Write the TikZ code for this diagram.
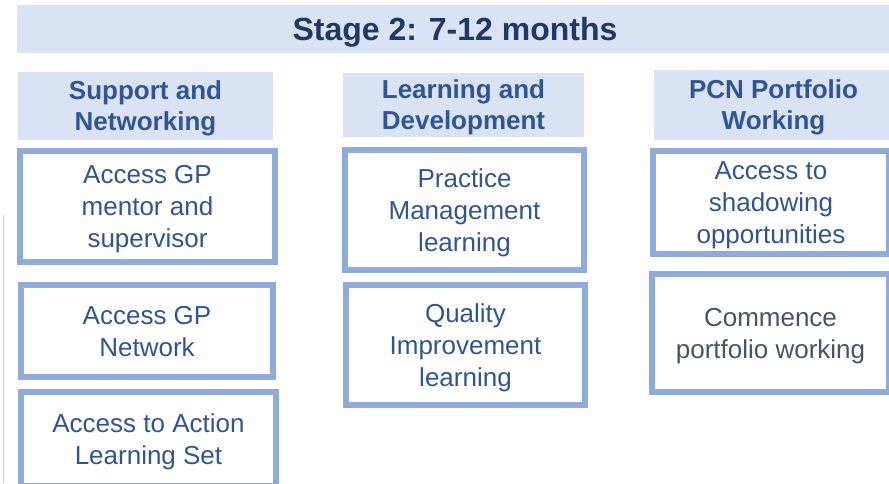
\documentclass[tikz,border=0pt]{standalone}
\usepackage{fontspec}
\setmainfont{Liberation Sans}
\definecolor{bannerfill}{HTML}{DAE3F3}
\definecolor{boxline}{HTML}{8FAADC}
\definecolor{itemtext}{HTML}{2F5597}
\definecolor{titletext}{HTML}{1F3864}
\definecolor{greytext}{HTML}{44546A}

\begin{document}
\begin{tikzpicture}[x=1pt,y=-1pt,
                    banner/.style={fill=bannerfill,inner sep=0pt,align=center,
                      text=itemtext,text depth=-6.5pt,
                      font=\fontsize{26}{31}\selectfont\bfseries},
                    item/.style={draw=boxline,line width=6pt,fill=white,
                      inner sep=0pt,align=center,text=itemtext,text depth=-7pt,
                      font=\fontsize{26}{32}\selectfont}]

  \useasboundingbox (0,0) rectangle (889,483);
  \clip (0,0) rectangle (889,483);

  \draw[boxline!60,line width=1pt] (3,215) -- (3,483);

  % title bar
  \node[banner,minimum width=876,minimum height=48,text=titletext,text depth=-8pt,
        font=\fontsize{32}{38}\selectfont\bfseries] (stage) at (455,29)
        {Stage 2: 7-12 months};

  % column heads
  \node[banner,minimum width=255,minimum height=68] (support) at (145.5,106)
        {Support and\\Networking};
  \node[banner,minimum width=241,minimum height=64] (learning) at (463.5,105)
        {Learning and\\Development};
  \node[banner,minimum width=239,minimum height=70] (pcn) at (773.5,105)
        {PCN Portfolio\\Working};

  % support and networking
  \node[item,minimum width=255,minimum height=111] (mentor)  at (147.5,206.5)
        {Access GP\\mentor and\\supervisor};
  \node[item,minimum width=252,minimum height=92]  (network) at (147,331)
        {Access GP\\Network};
  \node[item,minimum width=255,minimum height=94]  (actionset) at (148.5,439)
        {Access to Action\\Learning Set};

  % learning and development
  \node[item,minimum width=239,minimum height=120] (practice) at (464.5,210)
        {Practice\\Management\\learning};
  \node[item,minimum width=239,minimum height=120] (quality)  at (465.5,345)
        {Quality\\Improvement\\learning};

  % pcn portfolio working
  \node[item,minimum width=236,minimum height=103] (shadow)    at (771,202.5)
        {Access to\\shadowing\\opportunities};
  \node[item,minimum width=237,minimum height=118,text=greytext] (portfolio) at (770.5,333)
        {Commence\\portfolio working};
\end{tikzpicture}
\end{document}
